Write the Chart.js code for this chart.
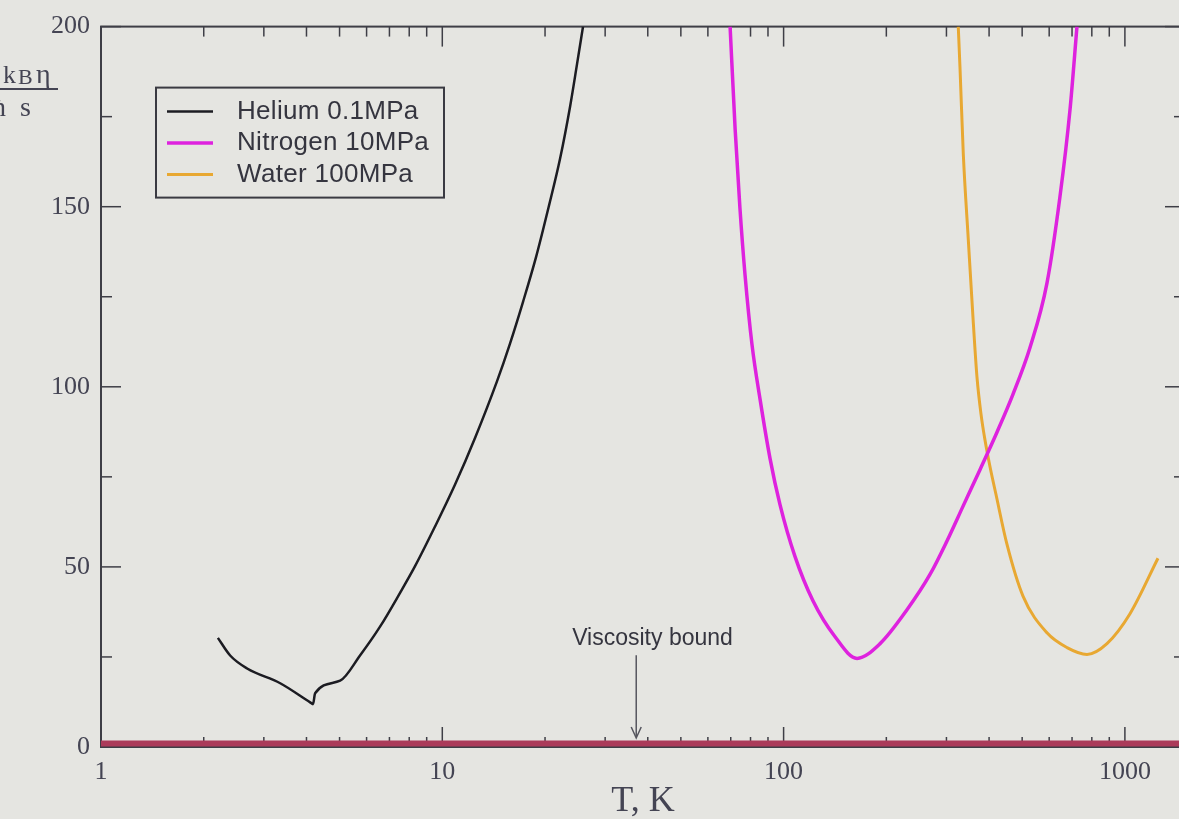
<!DOCTYPE html>
<html><head><meta charset="utf-8">
<script src="https://cdn.jsdelivr.net/npm/chart.js@4.4.1/dist/chart.umd.min.js"></script>
<style>html,body{margin:0;padding:0;background:#e5e5e1;overflow:hidden}#wrap{width:1200px;height:819px}</style>
</head><body><div id="wrap"><canvas id="c" width="1200" height="819"></canvas></div>
<script>
// ---- data ----
const heliumT   = [2.20, 2.39, 2.68, 3.35, 4.10, 4.18, 4.24, 5.02, 5.74, 6.57, 7.52, 8.32, 9.52, 10.89, 12.47, 14.46, 15.79, 17.24, 18.82, 20.54, 22.13, 23.67, 24.81, 25.84];
const heliumEta = [30.3, 25.4, 21.8, 17.7, 12.4, 11.9, 14.9, 18.4, 25.4, 33.4, 42.8, 50.2, 61.2, 72.8, 85.8, 101.5, 112.0, 123.6, 136.0, 150.3, 163.3, 177.7, 189.5, 200];

const nitrogenT   = [69.7, 72.1, 74.5, 77.1, 80.8, 85.4, 91.3, 97.6, 107.9, 121.9, 141.5, 164.1, 191.7, 229.9, 268.5, 301.1, 335.4, 376.2, 421.9, 469.9, 527.2, 591.1, 645.3, 690.3, 723.7];
const nitrogenEta = [200, 171.6, 149.5, 131.0, 111.7, 96.3, 80.0, 67.3, 53.0, 40.6, 30.6, 24.6, 28.7, 38.1, 47.9, 57.2, 66.8, 77.0, 87.4, 97.9, 110.9, 128.8, 152.8, 176.8, 200];

const waterT   = [324.9, 328.7, 336.1, 347.6, 359.6, 368.7, 378.8, 389.1, 402.5, 419.1, 451.2, 502.8, 591.1, 676.8, 774.3, 886.1, 1035, 1250];
const waterEta = [200, 188.7, 164.7, 141.0, 117.8, 102.6, 92.4, 85.2, 77.8, 70.1, 56.3, 41.9, 31.7, 27.6, 25.7, 28.7, 37.0, 52.4];

const boundT   = [1, 1500];
const boundEta = [1, 1];

const seriesLabels = ['Helium 0.1MPa', 'Nitrogen 10MPa', 'Water 100MPa'];
const xTickValues = [1, 10, 100, 1000];
const yTickValues = [0, 50, 100, 150, 200];
const xTitle = 'T, K';
const boundLabel = 'Viscosity bound';
const arrowT = 37, arrowTopEta = 25.5, arrowTipEta = 2.5;
const boundTextT = 41.3, boundTextEta = 30;

// ---- styles ----
const BG = '#e5e5e1';
const TXT = '#444453';
const AXIS = '#3e3e46';
const SERIF = '"Liberation Serif", "DejaVu Serif", serif';
const SANS = '"Liberation Sans", Arial, sans-serif';
const COLORS = ['#1c1c22', '#de22de', '#e8a832'];
const WIDTHS = [2.5, 3.5, 3];
const BOUND_COLOR = '#ab3b5a';

const pts = (xs, ys) => xs.map((x, i) => ({x, y: ys[i]}));

const framePlugin = {
  id: 'frame',
  beforeDraw(chart) {
    const {ctx, width, height} = chart;
    ctx.save(); ctx.fillStyle = BG; ctx.fillRect(0, 0, width, height); ctx.restore();
  },
  beforeDatasetsDraw(chart) {
    const {ctx, chartArea: a, scales: {x, y}} = chart;
    ctx.save();
    ctx.strokeStyle = AXIS;
    ctx.lineWidth = 2;
    ctx.strokeRect(a.left, a.top, a.right - a.left, a.bottom - a.top);
    ctx.lineWidth = 1.5;
    const seg = (x1, y1, x2, y2) => { ctx.beginPath(); ctx.moveTo(x1, y1); ctx.lineTo(x2, y2); ctx.stroke(); };
    for (let d = 0; d < 4; d++) {
      for (let m = 1; m <= 9; m++) {
        const v = m * Math.pow(10, d);
        if (v < x.min || v > x.max) continue;
        const px = x.getPixelForValue(v);
        const L = m === 1 ? 20 : 10;
        seg(px, a.bottom, px, a.bottom - L);
        seg(px, a.top, px, a.top + L);
      }
    }
    for (let v = 0; v <= 200; v += 25) {
      const py = y.getPixelForValue(v);
      const L = v % 50 === 0 ? 20 : 11;
      seg(a.left, py, a.left + L, py);
      seg(a.right, py, a.right - L, py);
    }
    ctx.restore();
  },
  afterDraw(chart) {
    const {ctx, chartArea: a, scales: {x, y}} = chart;
    ctx.save();
    // legend
    const bx = a.left + 55, by = a.top + 61, bw = 288, bh = 110;
    ctx.strokeStyle = '#3a3a42'; ctx.lineWidth = 2;
    ctx.strokeRect(bx, by, bw, bh);
    ctx.font = '26px ' + SANS;
    ctx.textBaseline = 'middle';
    ctx.textAlign = 'left';
    try { ctx.letterSpacing = '0.3px'; } catch (e) {}
    for (let i = 0; i < 3; i++) {
      const ds = chart.data.datasets[i];
      const ry = by + 24 + i * 31.5;
      ctx.strokeStyle = ds.borderColor; ctx.lineWidth = ds.borderWidth;
      ctx.beginPath(); ctx.moveTo(bx + 11, ry); ctx.lineTo(bx + 57, ry); ctx.stroke();
      ctx.fillStyle = '#35353f';
      ctx.fillText(ds.label, bx + 81, ry);
    }
    try { ctx.letterSpacing = '0px'; } catch (e) {}
    // viscosity bound annotation
    const ax = x.getPixelForValue(arrowT);
    const ay1 = y.getPixelForValue(arrowTopEta), ay2 = y.getPixelForValue(arrowTipEta);
    ctx.strokeStyle = '#55555e'; ctx.lineWidth = 1.5;
    ctx.beginPath(); ctx.moveTo(ax, ay1); ctx.lineTo(ax, ay2 - 2); ctx.stroke();
    ctx.beginPath(); ctx.moveTo(ax - 5, ay2 - 11); ctx.lineTo(ax, ay2); ctx.lineTo(ax + 5, ay2 - 11); ctx.stroke();
    ctx.font = '23px ' + SANS;
    ctx.fillStyle = '#35353f';
    ctx.textAlign = 'center'; ctx.textBaseline = 'alphabetic';
    ctx.fillText(boundLabel, x.getPixelForValue(boundTextT), y.getPixelForValue(boundTextEta) + 6);
    // y-axis title (cut at the left edge as in the reference)
    ctx.fillStyle = TXT; ctx.textAlign = 'left';
    ctx.font = '26px ' + SERIF; ctx.fillText('k', 3, 83);
    ctx.font = '22px ' + SERIF; ctx.fillText('B', 18, 84);
    ctx.font = '28px ' + SERIF; ctx.fillText('η', 36, 83);
    ctx.strokeStyle = TXT; ctx.lineWidth = 2;
    ctx.beginPath(); ctx.moveTo(0, 89); ctx.lineTo(58, 89); ctx.stroke();
    ctx.font = '28px ' + SERIF; ctx.fillText('ħ', -8, 116); ctx.fillText('s', 20, 116);
    ctx.restore();
  }
};

new Chart(document.getElementById('c'), {
  type: 'line',
  data: {
    datasets: [
      {label: seriesLabels[0], data: pts(heliumT, heliumEta), borderColor: COLORS[0], borderWidth: WIDTHS[0], pointRadius: 0, cubicInterpolationMode: 'monotone', fill: false},
      {label: seriesLabels[1], data: pts(nitrogenT, nitrogenEta), borderColor: COLORS[1], borderWidth: WIDTHS[1], pointRadius: 0, cubicInterpolationMode: 'monotone', fill: false},
      {label: seriesLabels[2], data: pts(waterT, waterEta), borderColor: COLORS[2], borderWidth: WIDTHS[2], pointRadius: 0, cubicInterpolationMode: 'monotone', fill: false},
      {label: boundLabel, data: pts(boundT, boundEta), borderColor: BOUND_COLOR, borderWidth: 6, pointRadius: 0, fill: false}
    ]
  },
  options: {
    responsive: false, animation: false, devicePixelRatio: 1,
    layout: {padding: {top: 22, right: 15, left: 0, bottom: 0}},
    plugins: {legend: {display: false}, tooltip: {enabled: false}},
    scales: {
      x: {
        type: 'logarithmic', min: 1, max: 1500,
        grid: {display: false, drawTicks: false}, border: {display: false},
        afterBuildTicks: s => { s.ticks = xTickValues.map(v => ({value: v})); },
        afterFit: s => { s.height = 72; },
        ticks: {autoSkip: false, maxRotation: 0, padding: 10, color: TXT, font: {family: SERIF, size: 26}, callback: v => String(v)},
        title: {display: true, text: xTitle, color: TXT, font: {family: SERIF, size: 36, lineHeight: 1}, padding: {top: 0, bottom: -1}}
      },
      y: {
        min: 0, max: 200,
        grid: {display: false, drawTicks: false}, border: {display: false},
        afterBuildTicks: s => { s.ticks = yTickValues.map(v => ({value: v})); },
        afterFit: s => { s.width = 101; },
        ticks: {padding: 11, color: TXT, font: {family: SERIF, size: 26}}
      }
    }
  },
  plugins: [framePlugin]
});
</script>
</body></html>
